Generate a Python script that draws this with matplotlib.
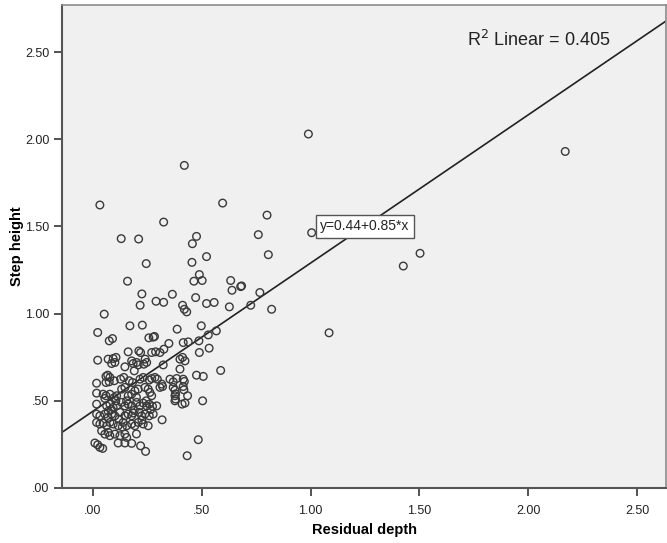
import numpy as np
import matplotlib
matplotlib.use('Agg')
import matplotlib.pyplot as plt
from matplotlib.ticker import FuncFormatter

plt.rcParams['font.family'] = ['Liberation Sans', 'DejaVu Sans']

# --- puntos (Residual depth, Step height) ---
resid_alto = [2.17, 0.99, 0.80, 0.76, 1.005, 0.806, 0.683, 0.767, 0.725, 0.821, 1.503, 1.426, 1.085,
              0.032, 0.596, 0.325, 0.13, 0.21, 0.476, 0.457, 0.522, 0.455, 0.245, 0.159, 0.489, 0.464,
              0.502, 0.633, 0.639, 0.679, 0.225, 0.365, 0.472, 0.29, 0.325, 0.217, 0.412, 0.522, 0.557,
              0.627, 0.42]
step_alto = [1.93, 2.03, 1.565, 1.453, 1.464, 1.338, 1.159, 1.121, 1.048, 1.025, 1.346, 1.273, 0.89,
             1.623, 1.634, 1.525, 1.43, 1.428, 1.443, 1.401, 1.327, 1.294, 1.287, 1.186, 1.224, 1.186,
             1.19, 1.19, 1.134, 1.155, 1.113, 1.111, 1.092, 1.071, 1.065, 1.048, 1.048, 1.058, 1.064,
             1.039, 1.85]

resid_medio = [0.052, 0.42, 0.431, 0.022, 0.17, 0.227, 0.387, 0.498, 0.567, 0.075, 0.09, 0.257, 0.277,
               0.283, 0.349, 0.415, 0.438, 0.487, 0.53, 0.534, 0.489, 0.326, 0.162, 0.211, 0.219, 0.27,
               0.288, 0.308, 0.022, 0.07, 0.093, 0.106, 0.086, 0.101, 0.178, 0.185, 0.201, 0.208, 0.24,
               0.247, 0.147, 0.19, 0.234, 0.323, 0.40, 0.412, 0.423, 0.40, 0.476, 0.507, 0.587]
step_medio = [0.997, 1.025, 1.01, 0.892, 0.93, 0.934, 0.911, 0.93, 0.901, 0.844, 0.857, 0.861, 0.865,
              0.869, 0.829, 0.834, 0.838, 0.844, 0.878, 0.802, 0.777, 0.796, 0.781, 0.786, 0.777, 0.777,
              0.781, 0.777, 0.733, 0.739, 0.743, 0.749, 0.714, 0.72, 0.729, 0.714, 0.72, 0.706, 0.739,
              0.72, 0.695, 0.672, 0.71, 0.706, 0.739, 0.749, 0.729, 0.682, 0.647, 0.64, 0.674]

resid_bajo = [0.017, 0.06, 0.068, 0.078, 0.06, 0.075, 0.098, 0.127, 0.142, 0.167, 0.182, 0.216, 0.231,
              0.259, 0.27, 0.285, 0.296, 0.316, 0.32, 0.308, 0.354, 0.369, 0.385, 0.415, 0.42, 0.369,
              0.377, 0.415, 0.418,
              0.017, 0.047, 0.06, 0.055, 0.078, 0.098, 0.109, 0.132, 0.147, 0.162, 0.178, 0.193, 0.208,
              0.239, 0.254, 0.262, 0.27, 0.377, 0.38, 0.435,
              0.017, 0.504, 0.41, 0.423, 0.377, 0.063, 0.078, 0.093, 0.109, 0.132, 0.147, 0.162, 0.178,
              0.201, 0.216, 0.231, 0.247, 0.259, 0.274, 0.293,
              0.017, 0.032, 0.055, 0.07, 0.086, 0.101, 0.124, 0.147, 0.162, 0.178, 0.185, 0.213, 0.224,
              0.239, 0.259, 0.277,
              0.017, 0.032, 0.047, 0.063, 0.078, 0.093, 0.116, 0.139, 0.155, 0.178, 0.193, 0.208, 0.231,
              0.254, 0.318,
              0.04, 0.055, 0.07, 0.078, 0.101, 0.124, 0.147, 0.155, 0.116, 0.147, 0.178, 0.009, 0.022,
              0.032, 0.045, 0.219, 0.242, 0.484, 0.433, 0.38,
              0.085, 0.12, 0.19, 0.225, 0.265, 0.105, 0.155, 0.2, 0.245, 0.135, 0.07, 0.2]
step_bajo = [0.601, 0.64, 0.647, 0.634, 0.605, 0.609, 0.615, 0.624, 0.634, 0.615, 0.605, 0.624, 0.634,
             0.619, 0.628, 0.634, 0.624, 0.596, 0.582, 0.577, 0.624, 0.609, 0.628, 0.624, 0.611, 0.577,
             0.561, 0.582, 0.563,
             0.544, 0.538, 0.529, 0.514, 0.538, 0.519, 0.529, 0.567, 0.577, 0.529, 0.538, 0.557, 0.567,
             0.577, 0.567, 0.548, 0.529, 0.529, 0.51, 0.529,
             0.481, 0.50, 0.481, 0.487, 0.50, 0.471, 0.481, 0.462, 0.471, 0.491, 0.471, 0.481, 0.471,
             0.491, 0.471, 0.487, 0.471, 0.481, 0.468, 0.471,
             0.424, 0.414, 0.424, 0.405, 0.424, 0.414, 0.434, 0.414, 0.424, 0.414, 0.43, 0.434, 0.414,
             0.424, 0.414, 0.424,
             0.376, 0.367, 0.372, 0.357, 0.376, 0.367, 0.357, 0.376, 0.357, 0.367, 0.357, 0.376, 0.367,
             0.357, 0.391,
             0.328, 0.309, 0.319, 0.30, 0.309, 0.30, 0.309, 0.29, 0.258, 0.258, 0.256, 0.258, 0.248,
             0.233, 0.227, 0.242, 0.21, 0.277, 0.185, 0.54,
             0.45, 0.395, 0.445, 0.39, 0.45, 0.50, 0.50, 0.52, 0.50, 0.35, 0.44, 0.31]

resid = np.array(resid_alto + resid_medio + resid_bajo)
step = np.array(step_alto + step_medio + step_bajo)

# recta de ajuste informada por SPSS
b0, b1 = 0.44, 0.85
r2 = 0.405
xticks = [0.0, 0.5, 1.0, 1.5, 2.0, 2.5]
yticks = [0.0, 0.5, 1.0, 1.5, 2.0, 2.5]
xlim = (-0.142, 2.633)
ylim = (0.0, 2.77)

fig = plt.figure(figsize=(6.67, 5.43), dpi=100)
ax = fig.add_axes([62/667, 1 - 488/543, 604/667, 483/543])
ax.set_facecolor('#F0F0F0')

ax.scatter(resid, step, s=30, facecolors='none', edgecolors='#3a3a3a', linewidths=1.0, zorder=3)

xl = np.array(xlim)
ax.plot(xl, b0 + b1 * xl, color='#222222', lw=1.2, zorder=2)

ax.set_xlim(*xlim)
ax.set_ylim(*ylim)
ax.set_xticks(xticks)
ax.set_yticks(yticks)
fmt = FuncFormatter(lambda v, p: ("%.2f" % v).lstrip('0') if v < 1 else "%.2f" % v)
ax.xaxis.set_major_formatter(fmt)
ax.yaxis.set_major_formatter(fmt)
ax.tick_params(direction='out', length=6, width=1.3, color='#444444', labelsize=9,
               labelcolor='#222222', pad=3)
ax.tick_params(axis='x', pad=6)

for s in ['left', 'bottom']:
    ax.spines[s].set_color('#555555')
    ax.spines[s].set_linewidth(1.5)
for s in ['top', 'right']:
    ax.spines[s].set_color('#8c8c8c')
    ax.spines[s].set_linewidth(1.2)

ax.set_xlabel('Residual depth', fontsize=10.5, fontweight='bold')
ax.set_ylabel('Step height', fontsize=10.5, fontweight='bold')
ax.xaxis.set_label_coords(0.5, -0.072)
ax.yaxis.set_label_coords(-0.063, 0.5)

ax.text(0.79, 0.928, r'R$^2$ Linear = 0.405', transform=ax.transAxes, fontsize=13,
        ha='center', va='center', color='#222222')
ax.text(1.045, 1.50, 'y=0.44+0.85*x', fontsize=10, ha='left', va='center', color='#222222',
        bbox=dict(boxstyle='square,pad=0.3', fc='white', ec='#555555', lw=1.0), zorder=4)

plt.savefig('out.png', dpi=100)
